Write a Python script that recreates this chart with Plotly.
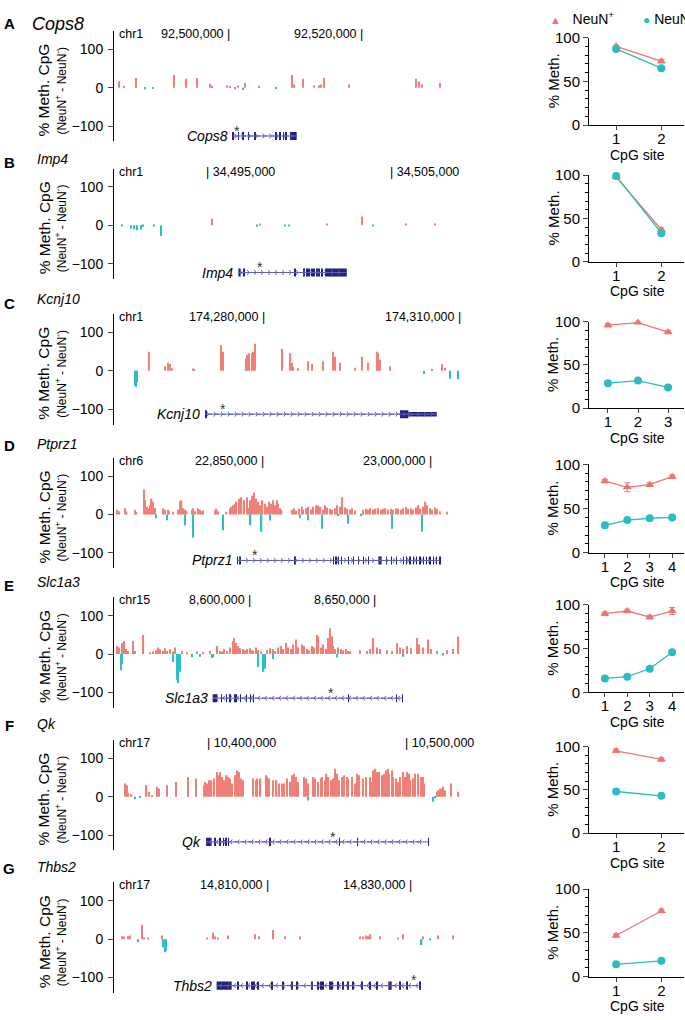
import numpy as np
import plotly.graph_objects as go

W, H = 685, 1020
FONT = "Liberation Sans, Arial, Helvetica, sans-serif"
SALMON = "#F07F77"
CYAN = "#2DBFC3"
TRI = "#EE7470"
CIRC = "#2ABCBE"
NAVY = "#22227C"
INTRON = "#5E5EB8"

# ---------------------------------------------------------------- data
letters = ["A", "B", "C", "D", "E", "F", "G"]
genes = ["Cops8", "Imp4", "Kcnj10", "Ptprz1", "Slc1a3", "Qk", "Thbs2"]
chroms = ["chr1", "chr1", "chr1", "chr6", "chr15", "chr17", "chr17"]
# labelled genome coordinates (kb) and on which side of the text the "|" sits
coord_kb = [[92500, 92520], [34495, 34505], [174280, 174310], [22850, 23000],
            [8600, 8650], [10400, 10500], [14810, 14830]]
bar_side = ["right", "left", "right", "right", "right", "left", "right"]

# methylation difference tracks: positions in kb relative to the first labelled coordinate
cops8_pos = [-16.9, -16.1, -14.3, -13.0, -11.8, -8.6, -6.7, -5.1, -3.2, -2.9, -0.65, -0.15, 0.6, 1.1,
             1.8, 2.1, 4.2, 6.8, 9.2, 9.5, 10.9, 12.5, 13.3, 13.6, 14.0, 17.8, 28.0, 28.4, 28.9, 31.6]
cops8_val = [17, 4, 25, -4, -3, 33, 23, 25, 10, 5, 6, 4, -4, 6, -6, 12, 5, -3, 33, 8, 23, 6, 6, 8, 25,
             8, 23, 16, 8, 12]

imp4_pos = [-4.52, -4.03, -3.85, -3.67, -3.49, -3.35, -2.75, -2.37, 0.40, 2.80, 2.98, 4.34, 4.57,
            6.60, 8.50, 9.13, 10.89, 12.48]
imp4_val = [-3, -8, -10, -13, -11, -4, -3, -28, 17, -4, 3, -2.5, -2.5, 3, 23, -2, 3, 4]

kcnj10_pos = [-19.97, -19.8, -19.66, -17.83, -15.42, -14.92, -14.66, -14.4, -11.09, -10.93, -6.85,
              -6.59, -3.02, -2.81, -2.6, -2.14, -1.9, -1.64, 2.45, 3.72, 3.98, 4.23, 4.99, 6.52, 7.04,
              8.82, 10.35, 10.61, 11.38, 13.67, 14.7, 15.71, 17.0, 17.24, 17.5, 19.03, 24.24, 25.42,
              26.95, 27.46, 28.2, 29.4]
kcnj10_val = [-38, -42, -30, 50, 12, 21, 18, 7, 6, 4, 67, 50, 33, 42, 46, 46, 50, 71, 58, 46, 21, 10,
              7, 25, 18, 25, 50, 37, 21, 8, 37, 21, 50, 46, 29, 12, -8, 4, 17, 8, -20, -22]

ptprz1_pos = [-131.0, -129.2, -124.1, -122.7, -115.2, -113.8, -107.2, -106.0, -104.8, -103.1,
              -101.9, -100.4, -98.9, -97.4, -90.0, -88.5, -86.1, -84.6, -81.1, -76.6,
              -75.1, -73.7, -72.2, -70.7, -69.2, -64.7, -63.3, -61.8, -58.8, -57.3,
              -55.8, -54.4, -44.0, -42.5, -41.0, -33.6, -30.6, -29.1, -27.6, -26.1,
              -24.7, -22.3, -20.2, -18.1, -15.7, -14.3, -12.2, -10.4, -8.9, -7.4,
              -5.3, -3.3, -1.5, 0.6, 2.1, 4.5, 6.5, 8.0, 9.5, 11.0,
              12.5, 14.0, 15.4, 24.4, 26.4, 28.8, 31.2, 33.3, 34.7, 37.1,
              39.2, 41.3, 43.7, 46.0, 48.1, 50.2, 52.0, 54.1, 56.1, 58.5,
              60.6, 63.0, 65.0, 67.4, 69.5, 71.9, 74.0, 76.3, 78.4, 80.8,
              88.2, 90.3, 92.7, 94.7, 97.1, 99.2, 101.6, 103.7, 106.0, 108.1,
              110.5, 112.6, 114.9, 117.3, 119.4, 121.8, 123.8, 126.2, 128.3, 130.4,
              132.8, 135.1, 137.2, 139.3, 141.7, 143.7, 145.2, 147.6, 149.7, 152.1,
              154.1, 156.5, 162.5,
              -96.5, -87.0, -70.7, -63.3, -37.1, -12.2, -2.4, 5.0, 31.8, 39.2, 51.1, 65.9, 74.8,
              86.7, 113.5, 140.2]
ptprz1_val = [12, 8, 16, 8, 12, 7, 65, 37, 20, 16,
              24, 41, 33, 16, 16, 12, 12, 8, 7, 12,
              33, 37, 16, 12, 10, 12, 16, 8, 16, 12,
              8, 10, 10, 15, 8, 7, 15, 20, 24, 28,
              33, 41, 45, 37, 45, 16, 37, 49, 57, 41,
              33, 24, 37, 28, 20, 33, 28, 37, 24, 37,
              28, 16, 12, 12, 16, 10, 15, 20, 12, 16,
              20, 12, 20, 24, 23, 20, 12, 24, 18, 15,
              12, 16, 24, 20, 45, 18, 15, 12, 16, 10,
              12, 15, 12, 16, 12, 15, 16, 12, 15, 16,
              12, 15, 12, 16, 15, 12, 16, 20, 15, 16,
              12, 18, 24, 15, 20, 33, 24, 16, 12, 18,
              15, 8, 7,
              -10, -15, -28, -61, -41, -28, -45, -16, -10, -15, -37, -4, -24, -4, -37, -45]

slc1a3_pos = [-53.7, -52.9, -52.0, -51.1, -50.3, -49.3, -47.6, -46.7, -43.3, -40.7,
              -39.3, -38.3, -37.3, -36.7, -35.6, -34.7, -34.0, -32.7, -31.6, -30.7,
              -28.0, -26.0, -22.0, -19.3, -16.7, -14.0, -12.7, -12.0, -11.1, -10.0,
              -8.7, -7.6, -6.9, -6.3, -5.3, -4.7, -3.6, -2.7, -1.7, -0.7,
              0.0, 0.7, 1.7, 2.7, 3.6, 6.0, 7.3, 8.4, 9.3, 10.7,
              11.6, 12.7, 13.7, 14.7, 15.6, 16.7, 17.7, 18.7, 20.0, 20.9,
              22.0, 23.1, 24.0, 24.9, 26.0, 26.7, 27.6, 28.7, 29.7, 30.7,
              31.3, 32.0, 32.7, 33.3, 34.7, 35.6, 36.7, 37.7, 38.7, 39.3,
              43.3, 46.0, 47.3, 48.7, 50.0, 51.3, 54.0, 56.0, 58.0, 59.3,
              60.7, 62.0, 63.6, 66.0, 67.1, 68.7, 70.7, 71.6, 74.0, 78.0,
              80.7, 82.7,
              -52.4, -51.9, -31.3, -29.7, -29.3, -28.7, -24.0, -20.7, -16.0, -15.3, 2.7, 4.7, 5.3,
              8.4, 34.0, 60.7, 76.7]
slc1a3_val = [21, 17, 29, 34, 13, 8, 34, 8, 50, 4,
              7, 10, 17, 13, 8, 15, 8, 13, 7, 17,
              8, 4, 7, 4, 8, 21, 8, 7, 13, 8,
              17, 34, 42, 29, 21, 15, 13, 10, 13, 15,
              10, 8, 17, 10, 7, 10, 15, 13, 8, 17,
              21, 13, 29, 17, 13, 25, 38, 17, 25, 21,
              13, 10, 21, 17, 50, 46, 17, 25, 13, 42,
              67, 46, 21, 13, 17, 13, 10, 13, 8, 7,
              10, 8, 13, 42, 17, 13, 10, 8, 29, 17,
              13, 21, 15, 42, 25, 17, 38, 13, 8, 10,
              13, 46,
              -42, -25, -21, -67, -76, -46, -8, -7, -10, -8, -34, -46, -38, -13, -8, -7, -4]

qk_pos = [-41.3, -40.5, -39.6, -38.0, -30.4, -29.0, -27.8, -25.0, -24.0, -20.2,
          -15.5, -9.3, -5.4, -1.3, -0.7, 0.0, 1.3, 2.5, 3.7, 5.1,
          5.9, 6.7, 7.6, 8.8, 10.1, 11.0, 11.8, 13.0, 14.3, 15.5,
          16.5, 17.2, 18.2, 23.6, 25.0, 25.6, 27.3, 29.9, 30.7, 31.7,
          33.4, 35.4, 36.8, 38.0, 39.3, 40.8, 42.2, 43.2, 44.2, 45.2,
          46.4, 49.3, 50.3, 51.5, 54.0, 54.8, 56.5, 57.7, 58.5, 59.9,
          60.7, 61.6, 62.8, 63.8, 64.9, 65.8, 67.1, 68.3, 69.5, 70.9,
          71.7, 73.4, 75.2, 76.3, 77.3, 79.3, 80.6, 82.7, 83.5, 84.4,
          85.4, 86.4, 87.4, 88.6, 89.7, 90.8, 91.6, 92.4, 93.6, 94.5,
          95.7, 97.0, 97.8, 99.5, 100.4, 101.6, 102.4, 103.2, 104.6, 105.4,
          107.1, 108.3, 109.3, 110.0, 116.4, 117.2, 118.1, 118.9, 119.8, 120.6,
          123.5, 127.4,
          -36.3, -33.7, 51.5, 114.7, 115.6]
qk_val = [34, 30, 10, 7, 30, 13, 4, 26, 21, 30,
          38, 51, 47, 30, 38, 34, 43, 43, 47, 64,
          56, 64, 51, 43, 56, 51, 47, 34, 56, 68,
          64, 47, 43, 47, 43, 47, 47, 56, 51, 47,
          43, 43, 34, 34, 34, 47, 38, 56, 60, 51,
          38, 51, 47, 34, 51, 47, 38, 47, 51, 43,
          60, 51, 43, 47, 73, 60, 43, 51, 56, 51,
          47, 51, 34, 60, 56, 47, 51, 51, 38, 68,
          73, 64, 64, 56, 60, 68, 73, 60, 68, 51,
          47, 38, 51, 64, 51, 64, 60, 43, 47, 60,
          60, 51, 51, 34, 13, 17, 21, 21, 26, 17,
          34, 13,
          -7, -3, -10, -13, -4]

thbs2_pos = [-20.65, -20.33, -19.72, -19.49, -17.86, -17.53, -16.92, -14.96, -8.76, -7.83,
             -7.60, -7.13, -5.73, -2.00, -1.40, 0.56, 2.19, 4.29, 12.68, 13.15,
             13.52, 13.85, 14.17, 15.48, 18.04, 18.74, 21.54, 23.64, 25.73,
             -18.32, -14.83, -14.59, -14.45, 21.31, 22.47]
thbs2_val = [8, 7, 8, 10, 38, 4, 3, 10, 4, 17,
             7, 3, 10, 13, 8, 24, 8, 7, 7, 7,
             10, 8, 13, 8, 4, 13, 7, 10, 10,
             -7, -21, -34, -30, -15, -3]

track_pos = [cops8_pos, imp4_pos, kcnj10_pos, ptprz1_pos, slc1a3_pos, qk_pos, thbs2_pos]
track_val = [cops8_val, imp4_val, kcnj10_val, ptprz1_val, slc1a3_val, qk_val, thbs2_val]

# gene models (kb, relative to the same reference): transcript span, exons (start, end), UTR exons, strand, CpG asterisk
gene_span = [(0.25, 9.92), (1.81, 7.69), (-9.29, 26.19), (-24.1, 156.5), (-15.6, 60.4), (-0.3, 112.2),
             (-7.37, 21.17)]
gene_strand = ["+", "+", "+", "+", "-", "-", "-"]
gene_star = [0.95, 2.98, -6.59, -8.3, 31.6, 64.1, 20.28]
gene_exons = [
    [(0.30, 0.40), (1.06, 1.16), (1.81, 1.91), (2.57, 2.67), (3.58, 3.68), (6.75, 6.85), (7.35, 7.45),
     (7.86, 7.96), (8.26, 8.36), (8.91, 9.92)],
    [(1.81, 1.93), (2.08, 2.15), (4.85, 4.91), (5.34, 5.40), (5.49, 5.55), (5.63, 5.69), (5.76, 5.82),
     (5.88, 5.94), (6.03, 6.09), (6.15, 6.21), (6.30, 6.36), (6.51, 7.69)],
    [(-9.29, -9.05), (20.57, 21.85)],
    [(-24.3, -23.9), (-21.9, -21.5), (27.1, 27.5), (61.3, 61.7), (63.7, 64.1), (65.7, 66.1),
     (68.7, 69.1), (74.6, 75.0), (79.1, 79.5), (83.6, 84.0), (88.0, 88.4), (92.5, 92.9),
     (101.6, 104.5), (108.8, 109.2), (113.3, 113.7), (117.7, 118.1), (123.6, 124.0),
     (126.6, 127.0), (129.6, 130.0), (132.6, 133.0), (135.5, 135.9), (138.5, 138.9),
     (141.5, 141.9), (144.4, 144.8), (147.4, 147.8), (150.4, 150.8), (153.3, 153.7), (156.2, 156.6)],
    [(-15.6, -13.7), (-12.1, -11.9), (-10.1, -9.9), (-8.8, -8.6), (-6.8, -6.6), (-6.1, -5.9),
     (-4.5, -4.3), (-2.1, -1.9), (-0.5, -0.3), (0.6, 0.8), (38.6, 38.8), (57.9, 58.1), (60.2, 60.4)],
    [(-0.3, 2.5), (4.1, 4.3), (6.6, 6.8), (8.3, 8.5), (9.7, 9.9), (10.9, 11.1), (32.0, 32.2),
     (67.0, 67.2), (76.2, 76.4), (112.0, 112.2)],
    [(-7.37, -5.27), (-4.40, -4.28), (-3.23, -3.11), (-2.55, -2.39), (-2.22, -2.06), (-1.60, -1.48),
     (0.27, 0.39), (1.90, 2.02), (3.06, 3.18), (3.76, 3.88), (5.84, 6.00), (6.79, 6.91),
     (7.12, 7.24), (7.49, 7.61), (8.42, 8.54), (8.66, 8.78), (9.59, 9.71), (10.29, 10.41),
     (10.99, 11.11), (11.69, 11.81), (12.85, 12.97), (14.02, 14.14), (14.95, 15.07),
     (16.65, 17.12), (18.21, 18.33), (19.15, 19.27), (21.05, 21.17)],
]
gene_utr = [[], [], [(21.85, 26.19)], [], [], [], []]

# pyrosequencing panels (% methylation per CpG site)
neun_pos_meth = [[90, 73], [98, 37], [96, 99, 88], [81, 74, 77, 86], [90, 93, 86, 93], [95, 85], [47, 75]]
neun_neg_meth = [[87, 65], [99, 33], [29, 32, 24], [31, 37, 39, 40], [16, 18, 27, 46], [48, 43], [14, 18]]
neun_pos_err = [[1, 2], [1, 2], [2, 1, 2], [2, 5, 2, 2], [2, 2, 2, 4], [2, 2], [2, 2]]
neun_neg_err = [[1, 1], [1, 1], [1, 1, 1], [2, 1, 2, 2], [1, 1, 1, 2], [1, 1], [1, 1]]

# ---------------------------------------------------------------- layout geometry (pixels)
zero_px = [80, 220, 368, 514, 656, 801, 946]
right_top_px = [29, 169, 318, 463, 606, 750, 895]
right_bot_px = [118, 257, 406, 553, 695, 838, 984]
letter_y_px = [15, 156, 299, 444, 586, 729, 874]
title_y_px = [15, 153, 295, 442, 583, 727, 873]
x_range_kb = [(92482.33, 92534.89), (34490.06, 34508.94), (174256.77, 174310.06),
              (22716.08, 23026.15), (8544.92, 8684.12), (10353.1, 10529.2), (14788.27, 14836.96)]
gene_y = [-126, -123, -113, -120, -115, -118, -121]
bar_w_px = 1.3
LX0, LX1 = 114, 462
RX0, RX1 = 589, 684
Y_LO, Y_HI = -140, 148
PX_PER_UNIT = 0.39
NB = "\u00a0"


def px_x(p):
    return p / W


def px_y(p):
    return 1 - p / H


def ax(k):
    return "" if k == 1 else str(k)


def note(x, y, text, size, **kw):
    d = dict(x=px_x(x), y=px_y(y), xref="paper", yref="paper", text=text, showarrow=False,
             xanchor="center", yanchor="middle", font=dict(size=size))
    d.update(kw)
    return d


fig = go.Figure()
layout = dict(width=W, height=H, margin=dict(l=0, r=0, t=0, b=0), paper_bgcolor="white",
              plot_bgcolor="white", showlegend=False, barmode="overlay",
              font=dict(family=FONT, color="black", size=14))
ann = []

for i in range(7):
    kl, kr = 2 * i + 1, 2 * i + 2
    xl, yl, xr, yr = "x" + ax(kl), "y" + ax(kl), "x" + ax(kr), "y" + ax(kr)
    ref = coord_kb[i][0]
    r0, r1 = x_range_kb[i]
    kb_per_px = (r1 - r0) / (LX1 - LX0)
    z = zero_px[i]
    top = z - (Y_HI) * PX_PER_UNIT
    bot = z - (Y_LO) * PX_PER_UNIT

    # --- methylation difference track
    pos = np.array(track_pos[i]) + ref
    val = np.array(track_val[i], dtype=float)
    fig.add_trace(go.Bar(x=pos, y=val, width=bar_w_px * kb_per_px,
                         marker=dict(color=[SALMON if v > 0 else CYAN for v in val], line=dict(width=0)),
                         xaxis=xl, yaxis=yl, hoverinfo="skip"))

    # --- gene model
    gy = gene_y[i]
    s, e = gene_span[i]
    fig.add_trace(go.Scatter(x=[s + ref, e + ref], y=[gy, gy], mode="lines",
                             line=dict(color=INTRON, width=1), xaxis=xl, yaxis=yl, hoverinfo="skip"))
    step = 7 * kb_per_px
    chev = np.arange(s + step / 2, e - step / 3, step) + ref
    fig.add_trace(go.Scatter(x=chev, y=[gy] * len(chev), mode="markers",
                             marker=dict(symbol="y-right" if gene_strand[i] == "+" else "y-left", size=4,
                                         color=INTRON, line=dict(color=INTRON, width=1)),
                             xaxis=xl, yaxis=yl, hoverinfo="skip"))
    ex = np.array(gene_exons[i])
    ex_h = np.full(len(ex), 21.0)
    fig.add_trace(go.Bar(x=(ex[:, 0] + ex[:, 1]) / 2 + ref, y=ex_h, base=gy - ex_h / 2,
                         width=ex[:, 1] - ex[:, 0], marker=dict(color=NAVY, line=dict(width=0)),
                         xaxis=xl, yaxis=yl, hoverinfo="skip"))
    if gene_utr[i]:
        ut = np.array(gene_utr[i])
        ut_h = np.full(len(ut), 12.0)
        fig.add_trace(go.Bar(x=(ut[:, 0] + ut[:, 1]) / 2 + ref, y=ut_h, base=gy - ut_h / 2,
                             width=ut[:, 1] - ut[:, 0], marker=dict(color=NAVY, line=dict(width=0)),
                             xaxis=xl, yaxis=yl, hoverinfo="skip"))
    ann.append(dict(x=s + ref, y=gy, xref=xl, yref=yl, text="<i>%s</i>" % genes[i], showarrow=False,
                    xanchor="right", yanchor="middle", xshift=-3, font=dict(size=14)))
    ann.append(dict(x=gene_star[i] + ref, y=gy + 14, xref=xl, yref=yl, text="*", showarrow=False,
                    xanchor="center", yanchor="middle", font=dict(size=14, color="#333333")))

    # --- track labels
    ann.append(note(LX0 + 3, top + 3, chroms[i], 12.5, xanchor="left"))
    for c in coord_kb[i]:
        lab = "{:,}".format(int(c * 1000))
        if bar_side[i] == "right":
            txt, xa = lab + " |", "right"
        else:
            txt, xa = "| " + lab, "left"
        ann.append(dict(x=c, y=px_y(top + 3), xref=xl, yref="paper", text=txt, showarrow=False,
                        xanchor=xa, yanchor="middle", xshift=1.5 if xa == "right" else -1.5,
                        font=dict(size=12.5)))
    ann.append(note(44, z + 3, "% Meth. CpG", 15.5, textangle=-90))
    ann.append(note(61, z + 3, "(NeuN<sup>+</sup> - NeuN<sup>-</sup>)", 12, textangle=-90))
    ann.append(note(9, letter_y_px[i], "<b>%s</b>" % letters[i], 15))
    ann.append(note(30 if i == 0 else 35, title_y_px[i], "<i>%s</i>" % genes[i], 18 if i == 0 else 14,
                    xanchor="left"))

    layout["xaxis" + ax(kl)] = dict(domain=[px_x(LX0), px_x(LX1)], range=[r0, r1], visible=False,
                                    anchor=yl)
    layout["yaxis" + ax(kl)] = dict(domain=[px_y(bot), px_y(top)], range=[Y_LO, Y_HI], anchor=xl,
                                    tickvals=[-100, 0, 100], ticks="outside", ticklen=5,
                                    showline=True, linecolor="black", linewidth=1, showgrid=False,
                                    zeroline=False, tickfont=dict(size=14), ticklabelstandoff=2)

    # --- pyrosequencing panel
    n = len(neun_pos_meth[i])
    sites = list(range(1, n + 1))
    fig.add_trace(go.Scatter(x=sites, y=neun_pos_meth[i], mode="lines+markers",
                             line=dict(color=TRI, width=1.3),
                             marker=dict(symbol="triangle-up", size=8, color=TRI),
                             error_y=dict(type="data", array=neun_pos_err[i], color=TRI, thickness=1,
                                          width=3),
                             xaxis=xr, yaxis=yr, cliponaxis=False, hoverinfo="skip"))
    fig.add_trace(go.Scatter(x=sites, y=neun_neg_meth[i], mode="lines+markers",
                             line=dict(color=CIRC, width=1.3),
                             marker=dict(symbol="circle", size=8, color=CIRC),
                             error_y=dict(type="data", array=neun_neg_err[i], color=CIRC, thickness=1,
                                          width=3),
                             xaxis=xr, yaxis=yr, cliponaxis=False, hoverinfo="skip"))
    pad = {2: (0.4, 2.5), 3: (0.37, 3.53), 4: (0.29, 4.53)}[n]
    layout["xaxis" + ax(kr)] = dict(domain=[px_x(RX0), px_x(RX1)], range=list(pad), anchor=yr,
                                    tickvals=sites, ticks="outside", ticklen=4, showline=True,
                                    linecolor="black", linewidth=1, showgrid=False, zeroline=False,
                                    tickfont=dict(size=15), ticklabelstandoff=-4)
    layout["yaxis" + ax(kr)] = dict(domain=[px_y(right_bot_px[i]), px_y(right_top_px[i])],
                                    range=[0, 100], anchor=xr, tickvals=[0, 50, 100], ticks="outside",
                                    ticklen=5, showline=True, linecolor="black", linewidth=1,
                                    showgrid=False, zeroline=False, tickfont=dict(size=15),
                                    minor=dict(tickvals=[10, 20, 30, 40, 60, 70, 80, 90], ticks="outside",
                                               ticklen=3, tickcolor="black", showgrid=False))
    ann.append(note(553, (right_top_px[i] + right_bot_px[i]) / 2, "% Meth.", 15, textangle=-90))
    ann.append(note((RX0 + RX1) / 2 + 1, right_bot_px[i] + 30, "CpG site", 14))

# legend (top right)
ann.append(note(548, 9, "<span style='color:%s;font-size:11px'>▲</span>%sNeuN<sup>+</sup>" % (TRI, NB * 3),
                14, xanchor="left"))
ann.append(note(641, 9, "<span style='color:%s;font-size:12px'>●</span>%sNeuN<sup>-</sup>" % (CIRC, NB),
                14, xanchor="left"))

layout["annotations"] = ann
fig.update_layout(**layout)
fig.write_html("out.html", config={"displayModeBar": False},
               post_script="document.body.style.margin='0px';document.body.style.overflow='hidden';")
